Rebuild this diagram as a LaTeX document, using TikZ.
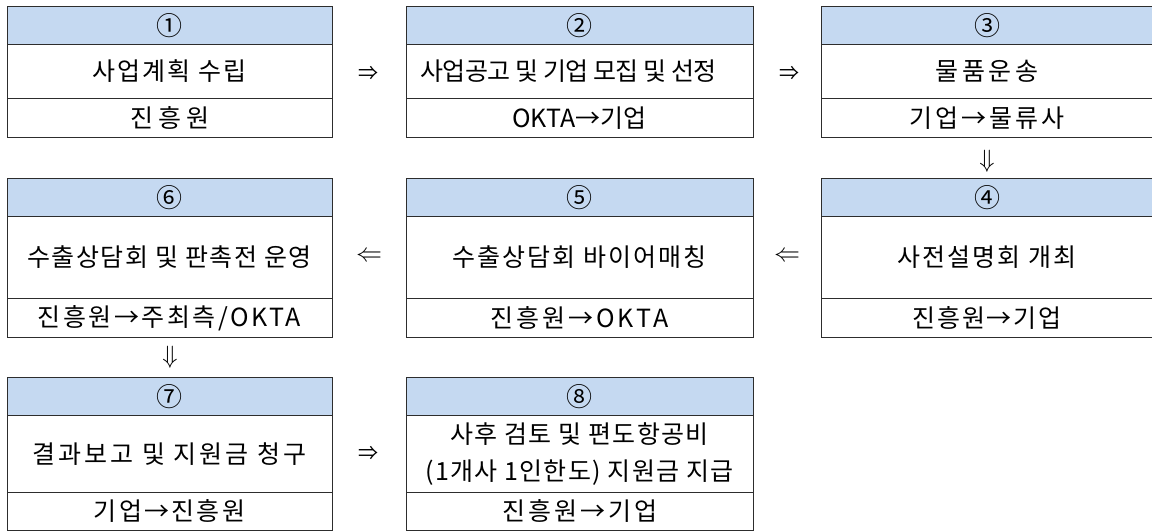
\documentclass[tikz,border=0pt]{standalone}
\usepackage{fontspec}
\setmainfont{Noto Sans CJK KR}
\usetikzlibrary{positioning}
\definecolor{headblue}{RGB}{197,217,241}
\definecolor{cellrule}{RGB}{45,45,45}
\newcommand{\spaced}[1]{\addfontfeature{LetterSpace=#1}}
\newcommand{\procbox}[8]{%
    \node[headcell, minimum width=#4pt, anchor=north west] (#1-num) at (#2,#3) {#5};
    \node[bodycell, minimum width=#4pt, minimum height=#6pt, below=0pt of #1-num] (#1-task) {#7};
    \node[whocell, minimum width=#4pt, below=0pt of #1-task] (#1-who) {#8};
}

\begin{document}
\begin{tikzpicture}[x=1pt, y=-1pt]
                        \tikzstyle{cell}=[draw=cellrule, line width=1pt, inner sep=0pt, outer sep=0pt, node distance=0pt]
                        \tikzstyle{headcell}=[cell, fill=headblue, minimum height=38.5pt, font=\fontsize{26}{30}\selectfont]
                        \tikzstyle{bodycell}=[cell, fill=white, align=center, font=\fontsize{25}{37}\selectfont]
                        \tikzstyle{whocell}=[cell, fill=white, minimum height=38.5pt, font=\fontsize{25}{30}\selectfont]
                        \tikzstyle{flowsign}=[inner sep=0pt]
                        \useasboundingbox (0,0) rectangle (1152,531);
                        \clip (0,0) rectangle (1152,531);
                        \procbox{s1}{7}{6}{325}{①}{54}{\spaced{8.5}사업계획 수립}{\spaced{20}진흥원}
                        \procbox{s2}{406}{6}{347}{②}{54}{\spaced{-3}사업공고 및 기업 모집 및 선정\hspace{22pt}}{OKTA→기업}
                        \procbox{s3}{821}{6}{332}{③}{54}{\spaced{15}물품운송}{\spaced{12}기업→물류사}
                        \procbox{s4}{821}{178}{332}{④}{82}{\spaced{8.5}사전설명회 개최}{\spaced{7}진흥원→기업}
                        \procbox{s5}{406}{178}{347}{⑤}{82}{\spaced{8}수출상담회 바이어매칭}{\spaced{11.5}진흥원→OKTA}
                        \procbox{s6}{7}{178}{325}{⑥}{82}{\spaced{6}수출상담회 및 판촉전 운영}{\spaced{10}진흥원→주최측/OKTA}
                        \procbox{s7}{7}{377}{325}{⑦}{76.5}{\spaced{12}결과보고 및 지원금 청구}{\spaced{9}기업→진흥원}
                        \procbox{s8}{406}{377}{347}{⑧}{76.5}{\spaced{5}사후 검토 및 편도항공비\\\spaced{5}(1개사 1인한도) 지원금 지급}{\spaced{12}진흥원→기업}
                        \node[flowsign, font=\fontsize{20}{24}\selectfont] (go12) at (368,73) {⇒};
                        \node[flowsign, font=\fontsize{20}{24}\selectfont] (go23) at (789,73) {⇒};
                        \node[flowsign] (go34) at (987,161) {\scalebox{2.5}{$\Downarrow$}};
                        \node[flowsign] (go45) at (787,257) {\scalebox{2.6}{$\Leftarrow$}};
                        \node[flowsign] (go56) at (369,257) {\scalebox{2.6}{$\Leftarrow$}};
                        \node[flowsign] (go67) at (170,357) {\scalebox{2.5}{$\Downarrow$}};
                        \node[flowsign, font=\fontsize{20}{24}\selectfont] (go78) at (368,453) {⇒};
                    \end{tikzpicture}
\end{document}
